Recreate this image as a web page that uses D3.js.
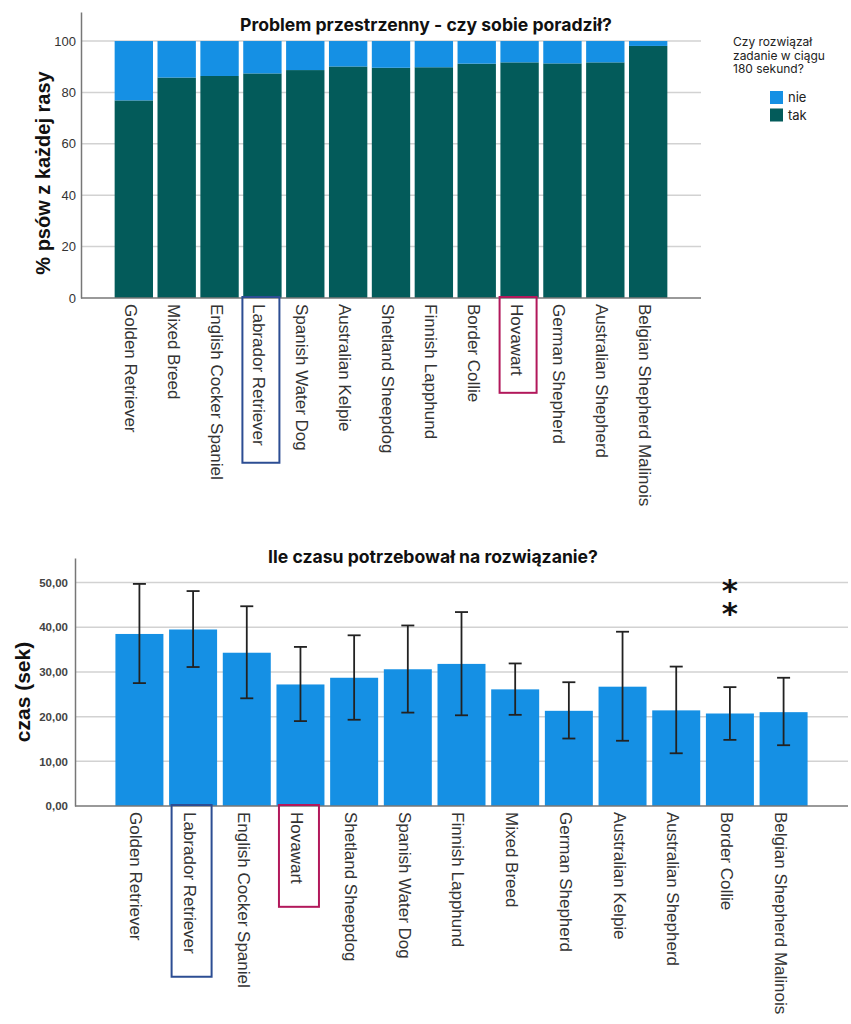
<!DOCTYPE html>
<html>
<head>
<meta charset="utf-8">
<script src="https://cdn.jsdelivr.net/npm/d3@7"></script>
<style>
  body { margin: 0; background: #fff; }
  svg { display: block; }
  .tick-lbl { font-family: "Liberation Sans", Arial, sans-serif; fill: #333; }
  .cat-lbl { font-family: "Liberation Sans", Arial, sans-serif; font-size: 17px; fill: #333; }
  .title { font-family: Inter, "Noto Sans", sans-serif; font-weight: 700; font-size: 17.6px; fill: #111; }
  .ylab { font-family: "Liberation Sans", Arial, sans-serif; font-weight: 700; font-size: 20px; fill: #111; }
  .legend { font-family: Inter, "Noto Sans", sans-serif; font-size: 12px; fill: #222; }
</style>
</head>
<body>
<svg id="chart" width="851" height="1024"></svg>
<script>
// top chart: share of dogs that solved the task within 180 s
const breedsTop = ['Golden Retriever', 'Mixed Breed', 'English Cocker Spaniel', 'Labrador Retriever',
  'Spanish Water Dog', 'Australian Kelpie', 'Shetland Sheepdog', 'Finnish Lapphund', 'Border Collie',
  'Hovawart', 'German Shepherd', 'Australian Shepherd', 'Belgian Shepherd Malinois'];
const takPct = [76.9, 85.8, 86.4, 87.4, 88.7, 90.1, 89.6, 89.8, 91.2, 91.7, 91.3, 91.7, 98.1];
const topTicks = [0, 20, 40, 60, 80, 100];
const legendTitle = ['Czy rozwiązał', 'zadanie w ciągu', '180 sekund?'];
const legendKeys = ['nie', 'tak'];

// bottom chart: mean time with error bars
const breedsBottom = ['Golden Retriever', 'Labrador Retriever', 'English Cocker Spaniel', 'Hovawart',
  'Shetland Sheepdog', 'Spanish Water Dog', 'Finnish Lapphund', 'Mixed Breed', 'German Shepherd',
  'Australian Kelpie', 'Australian Shepherd', 'Border Collie', 'Belgian Shepherd Malinois'];
const meanTime = [38.5, 39.5, 34.3, 27.2, 28.7, 30.6, 31.8, 26.1, 21.3, 26.7, 21.4, 20.7, 21.0];
const errLow = [27.5, 31.1, 24.1, 19.0, 19.3, 20.9, 20.3, 20.4, 15.1, 14.6, 11.8, 14.8, 13.6];
const errHigh = [49.7, 48.1, 44.7, 35.6, 38.2, 40.4, 43.4, 31.9, 27.7, 39.0, 31.2, 26.6, 28.7];
const bottomTicks = [0, 10, 20, 30, 40, 50];

const highlighted = ['Labrador Retriever', 'Hovawart'];
const highlightColors = ['#2c4d93', '#b2185b'];
const starBreed = 'Border Collie';
const starValues = [49.7, 44.6];

const BLUE = '#1590e4';
const TEAL = '#035b5a';

const svg = d3.select('#chart');
svg.append('rect').attr('width', 851).attr('height', 1024).attr('fill', '#fff');

function drawFrame(g, x, y, ticks, fmt, pad, xr) {
  // gridlines
  g.selectAll('.grid')
    .data(ticks.filter(d => d > 0))
    .join('line')
    .attr('x1', xr[0]).attr('x2', xr[1])
    .attr('y1', d => y(d)).attr('y2', d => y(d))
    .attr('stroke', '#d2d2d2').attr('stroke-width', 1.5);

  const yAxis = d3.axisLeft(y).tickValues(ticks).tickSize(0).tickPadding(pad).tickFormat(fmt);
  const ax = g.append('g').attr('transform', `translate(${xr[0]},0)`).call(yAxis);
  ax.select('.domain').attr('stroke', '#777').attr('stroke-width', 1.5);
  ax.selectAll('.tick text').attr('class', 'tick-lbl');
  return ax;
}

function drawCatLabels(g, x, base, cats, boxPad, boxW) {
  const labels = g.selectAll('.cat')
    .data(cats)
    .join('text')
    .attr('class', 'cat-lbl')
    .attr('transform', d => `translate(${x(d) + x.bandwidth() / 2},${base + 6}) rotate(90)`)
    .attr('dy', '0.53em')
    .text(d => d);

  labels.each(function (d) {
    const i = highlighted.indexOf(d);
    if (i < 0) return;
    const len = this.getComputedTextLength();
    const cx = x(d) + x.bandwidth() / 2 - 1.5;
    g.append('rect')
      .attr('x', cx - boxW / 2)
      .attr('y', base - 1)
      .attr('width', boxW)
      .attr('height', len + 7 + boxPad)
      .attr('fill', 'none')
      .attr('stroke', highlightColors[i])
      .attr('stroke-width', 2);
  });
}

// ---------- top chart ----------
const topG = svg.append('g');
const x1 = d3.scaleBand().domain(breedsTop).range([81, 701]).paddingInner(0.105).paddingOuter(0.785);
const y1 = d3.scaleLinear().domain([0, 111.3]).range([298, 12]);

drawFrame(topG, x1, y1, topTicks, d => d, 5, [81, 701])
  .selectAll('.tick text').style('font-size', '13px');

const stackData = breedsTop.map((b, i) => ({ breed: b, tak: takPct[i], nie: 100 - takPct[i] }));
const stack = d3.stack().keys(['tak', 'nie'])(stackData);
const colorTop = d3.scaleOrdinal().domain(['nie', 'tak']).range([BLUE, TEAL]);

topG.selectAll('.layer')
  .data(stack)
  .join('g')
  .attr('fill', d => colorTop(d.key))
  .selectAll('rect')
  .data(d => d)
  .join('rect')
  .attr('x', d => x1(d.data.breed))
  .attr('y', d => y1(d[1]))
  .attr('width', x1.bandwidth())
  .attr('height', d => y1(d[0]) - y1(d[1]));

topG.append('line')
  .attr('x1', 81).attr('x2', 701).attr('y1', y1(0)).attr('y2', y1(0))
  .attr('stroke', '#777').attr('stroke-width', 1.5);

drawCatLabels(topG, x1, y1(0), breedsTop, 17, 37);

topG.append('text').attr('class', 'title')
  .attr('x', 426).attr('y', 31).attr('text-anchor', 'middle')
  .text('Problem przestrzenny - czy sobie poradził?');

topG.append('text').attr('class', 'ylab')
  .attr('transform', 'translate(50,173) rotate(-90)')
  .attr('text-anchor', 'middle')
  .text('% psów z każdej rasy');

// legend
const leg = topG.append('g').attr('transform', 'translate(733,46)');
leg.selectAll('.lt')
  .data(legendTitle)
  .join('text')
  .attr('class', 'legend')
  .attr('y', (d, i) => i * 13.7)
  .text(d => d);
const keys = leg.selectAll('.lk')
  .data(legendKeys)
  .join('g')
  .attr('transform', (d, i) => `translate(37,${45 + i * 17.5})`);
keys.append('rect').attr('width', 13).attr('height', 13).attr('fill', d => colorTop(d));
keys.append('text').attr('class', 'legend').style('font-size', '13px')
  .attr('x', 18).attr('y', 11).text(d => d);

// ---------- bottom chart ----------
const botG = svg.append('g');
const x2 = d3.scaleBand().domain(breedsBottom).range([75, 848]).paddingInner(0.106).paddingOuter(0.753);
const y2 = d3.scaleLinear().domain([0, 55.5]).range([806, 558]);

drawFrame(botG, x2, y2, bottomTicks, d3.format('.2f'), 7, [75, 848])
  .selectAll('.tick text')
  .text(d => d3.format('.2f')(d).replace('.', ','))
  .style('font-size', '11.5px')
  .style('font-weight', '700')
  .style('fill', '#444');

const timeData = breedsBottom.map((b, i) => ({ breed: b, mean: meanTime[i], lo: errLow[i], hi: errHigh[i] }));

botG.selectAll('.bar')
  .data(timeData)
  .join('rect')
  .attr('x', d => x2(d.breed))
  .attr('y', d => y2(d.mean))
  .attr('width', x2.bandwidth())
  .attr('height', d => y2(0) - y2(d.mean))
  .attr('fill', BLUE);

const eb = botG.selectAll('.err')
  .data(timeData)
  .join('g')
  .attr('transform', d => `translate(${x2(d.breed) + x2.bandwidth() / 2},0)`)
  .attr('stroke', '#222').attr('stroke-width', 1.8);
eb.append('line').attr('y1', d => y2(d.lo)).attr('y2', d => y2(d.hi));
eb.append('line').attr('x1', -6.5).attr('x2', 6.5).attr('y1', d => y2(d.hi)).attr('y2', d => y2(d.hi));
eb.append('line').attr('x1', -6.5).attr('x2', 6.5).attr('y1', d => y2(d.lo)).attr('y2', d => y2(d.lo));

botG.append('line')
  .attr('x1', 75).attr('x2', 848).attr('y1', y2(0)).attr('y2', y2(0))
  .attr('stroke', '#777').attr('stroke-width', 1.5);

drawCatLabels(botG, x2, y2(0), breedsBottom, 23, 40);

// significance marks, one text element with stacked asterisks
const starX = x2(starBreed) + x2.bandwidth() / 2;
botG.append('text')
  .attr('text-anchor', 'middle')
  .style('font-family', '"DejaVu Sans", sans-serif')
  .style('font-size', '31px')
  .style('font-weight', '700')
  .style('fill', '#111')
  .selectAll('tspan')
  .data(starValues)
  .join('tspan')
  .attr('x', starX)
  .attr('y', d => y2(d) + 17.5)
  .text('*');

botG.append('text').attr('class', 'title')
  .attr('x', 433).attr('y', 563).attr('text-anchor', 'middle')
  .text('Ile czasu potrzebował na rozwiązanie?');

botG.append('text').attr('class', 'ylab')
  .style('font-size', '21px')
  .attr('transform', 'translate(30,692) rotate(-90)')
  .attr('text-anchor', 'middle')
  .text('czas (sek)');
</script>
</body>
</html>
